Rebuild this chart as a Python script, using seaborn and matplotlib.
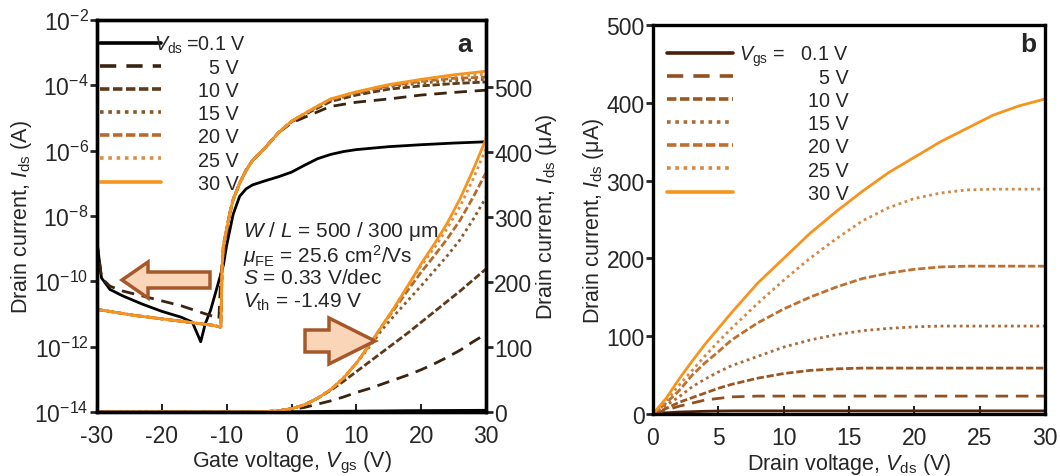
import numpy as np
import pandas as pd
import matplotlib
matplotlib.use("Agg")
import matplotlib.pyplot as plt
import seaborn as sns
from matplotlib.lines import Line2D
from matplotlib.patches import FancyArrow

sns.set_theme(style="ticks")
plt.rcParams["font.family"] = ["Liberation Sans", "DejaVu Sans"]
plt.rcParams["mathtext.fontset"] = "custom"
plt.rcParams["mathtext.rm"] = "Liberation Sans"
plt.rcParams["mathtext.it"] = "Liberation Sans:italic"
plt.rcParams["mathtext.bf"] = "Liberation Sans:bold"
plt.rcParams["axes.unicode_minus"] = False

# ---------------- data : panel a (transfer curves) ----------------
labels_a = ["0.1", "5", "10", "15", "20", "25", "30"]

# log-scale (left axis) curves, values in log10(A)
vgs_log_01 = [-30, -29.3, -28, -26, -23, -20, -17, -15.3, -14, -13.3, -12.5, -11.5, -10.5,
              -10, -9, -8, -7, -6, -4, -2, 0, 2, 4, 6, 8, 10, 15, 20, 25, 30]
log_id_01 = [-8.8, -9.9, -10.25, -10.45, -10.7, -10.92, -11.1, -11.25, -11.85, -11.3, -10.9,
             -10.2, -9.5, -8.9, -7.95, -7.4, -7.17, -7.05, -6.92, -6.8, -6.66, -6.45, -6.25,
             -6.12, -6.03, -5.97, -5.88, -5.82, -5.77, -5.73]

vgs_log_05 = [-30, -29.3, -28, -26, -23, -20, -17, -14, -12, -11.2, -10.9, -10.5, -10, -9.5,
              -9, -8, -7, -6, -4, -2, 0, 3, 6, 10, 15, 20, 25, 30]
log_id_05 = [-8.8, -9.9, -10.15, -10.3, -10.45, -10.6, -10.75, -10.95, -11.08, -11.15, -9.8,
             -9.3, -8.6, -7.9, -7.5, -7.0, -6.6, -6.3, -5.9, -5.45, -5.15, -4.9, -4.65, -4.52,
             -4.42, -4.3, -4.22, -4.15]

vgs_log_hi = [-30, -24, -20, -16, -12, -11, -10.9, -10.7, -10.5, -10, -9.5, -9, -8, -7, -6,
              -4, -2, 0, 3, 6, 10, 15, 20, 25, 30]
log_id_10 = [-10.86, -11.05, -11.15, -11.25, -11.35, -11.4, -11.4, -9.5, -8.9, -8.4, -7.9,
             -7.5, -7.0, -6.6, -6.3, -5.9, -5.45, -5.12, -4.8, -4.5, -4.3, -4.12, -4.02,
             -3.95, -3.9]
log_id_15 = [-10.86, -11.05, -11.15, -11.25, -11.35, -11.4, -11.4, -9.5, -8.9, -8.4, -7.9,
             -7.5, -7.0, -6.6, -6.3, -5.9, -5.45, -5.1, -4.77, -4.46, -4.25, -4.05, -3.93,
             -3.86, -3.82]
log_id_20 = [-10.86, -11.05, -11.15, -11.25, -11.35, -11.4, -11.4, -9.5, -8.9, -8.4, -7.9,
             -7.5, -7.0, -6.6, -6.3, -5.9, -5.45, -5.1, -4.76, -4.44, -4.22, -4.02, -3.88,
             -3.79, -3.75]
log_id_25 = [-10.86, -11.05, -11.15, -11.25, -11.35, -11.4, -11.4, -9.5, -8.9, -8.4, -7.9,
             -7.5, -7.0, -6.6, -6.3, -5.9, -5.45, -5.1, -4.75, -4.43, -4.21, -4.0, -3.85,
             -3.73, -3.66]
log_id_30 = [-10.86, -11.05, -11.15, -11.25, -11.35, -11.4, -11.4, -9.5, -8.9, -8.4, -7.9,
             -7.5, -7.0, -6.6, -6.3, -5.9, -5.45, -5.1, -4.75, -4.42, -4.2, -3.98, -3.82,
             -3.68, -3.57]

# linear-scale (right axis) curves, values in uA
vgs_lin = [-30, -10, -6, -4, -2, 0, 2, 4, 6, 8, 10, 12, 14, 16, 18, 20, 22, 24, 26, 28, 30]
lin_id_01 = [0, 0, 0, 0, 0, 0.2, 0.5, 0.8, 1, 1.2, 1.3, 1.5, 1.6, 1.8, 2, 2.1, 2.2, 2.3, 2.4, 2.5, 2.6]
lin_id_05 = [0, 0, 0, 0.5, 2, 4, 7, 12, 17, 23, 30, 36, 43, 50, 57, 65, 74, 84, 95, 108, 120]
lin_id_10 = [0, 0, 0, 0.5, 2, 5, 11, 21, 33, 47, 62, 77, 92, 107, 122, 138, 154, 170, 186, 203, 220]
lin_id_15 = [0, 0, 0, 0.5, 2, 5, 11, 21, 34, 52, 75, 100, 127, 150, 172, 194, 217, 240, 265, 296, 330]
lin_id_20 = [0, 0, 0, 0.5, 2, 5, 11, 21, 34, 52, 75, 103, 133, 160, 188, 215, 240, 266, 295, 330, 368]
lin_id_25 = [0, 0, 0, 0.5, 2, 5, 11, 21, 34, 52, 75, 103, 133, 163, 195, 225, 252, 282, 316, 358, 405]
lin_id_30 = [0, 0, 0, 0.5, 2, 5, 11, 21, 34, 52, 75, 103, 133, 163, 195, 228, 258, 290, 328, 372, 420]

# ---------------- data : panel b (output curves) ----------------
labels_b = ["0.1", "5", "10", "15", "20", "25", "30"]
vds = [0, 1, 2, 3, 4, 5, 6, 8, 10, 12, 14, 16, 18, 20, 22, 24, 26, 28, 30]
out_01 = [0, 1.5, 2.5, 3, 3.5, 3.8, 4, 4, 4, 4, 4, 4, 4, 4, 4, 4, 4, 4, 4]
out_05 = [0, 5, 10, 14, 18, 20, 22, 23, 23, 23, 23, 23, 23, 23, 23, 23, 23, 23, 23]
out_10 = [0, 7, 15, 21, 27, 33, 38, 46, 52, 56, 58, 59, 59, 59, 59, 59, 59, 59, 59]
out_15 = [0, 11, 22, 35, 45, 54, 62, 74, 86, 95, 102, 107, 110, 112, 113, 113, 113, 113, 113]
out_20 = [0, 14, 30, 50, 66, 80, 95, 117, 135, 150, 163, 174, 181, 186, 189, 190, 190, 190, 190]
out_25 = [0, 17, 37, 56, 75, 93, 110, 142, 172, 200, 225, 248, 265, 277, 284, 288, 289, 289, 289]
out_30 = [0, 20, 45, 68, 90, 110, 130, 168, 200, 232, 260, 286, 310, 330, 350, 367, 384, 396, 405]

# ---------------- styles ----------------
colors_a = ["#000000", "#3a2410", "#5c3a1b", "#8a5828", "#b86a2a", "#d98f4a", "#f7941d"]
colors_b = ["#4a2008", "#93501e", "#9c5622", "#ab6a38", "#c0702e", "#d48845", "#f7941d"]
dashes = ["-", (0, (4.5, 2.8)), (0, (2.6, 1.0)), (0, (1.0, 1.3)), (0, (2.6, 1.0)),
          (0, (1.0, 1.3)), "-"]
LW = 2.0
FS = 15
TFS = 16.5
LFS = 14.2
W, H = 1060.0, 477.0

fig = plt.figure(figsize=(10.6, 4.77), dpi=100)
ax = fig.add_axes([0.0915, 0.1342, 0.367, 0.822])
ax2 = ax.twinx()
axb = fig.add_axes([0.616, 0.130, 0.370, 0.8155])

log_sets = [(vgs_log_01, log_id_01), (vgs_log_05, log_id_05), (vgs_log_hi, log_id_10),
            (vgs_log_hi, log_id_15), (vgs_log_hi, log_id_20), (vgs_log_hi, log_id_25),
            (vgs_log_hi, log_id_30)]
lin_sets = [lin_id_01, lin_id_05, lin_id_10, lin_id_15, lin_id_20, lin_id_25, lin_id_30]
out_sets = [out_01, out_05, out_10, out_15, out_20, out_25, out_30]

for i, (xv, lv) in enumerate(log_sets):
    df = pd.DataFrame({"vgs": xv, "id": 10.0 ** np.array(lv)})
    sns.lineplot(data=df, x="vgs", y="id", ax=ax, color=colors_a[i], linestyle=dashes[i],
                 lw=LW, errorbar=None, legend=False)
for i, yv in enumerate(lin_sets):
    df = pd.DataFrame({"vgs": vgs_lin, "id": yv})
    sns.lineplot(data=df, x="vgs", y="id", ax=ax2, color=colors_a[i], linestyle=dashes[i],
                 lw=LW, errorbar=None, legend=False)
for i, yv in enumerate(out_sets):
    df = pd.DataFrame({"vds": vds, "id": yv})
    sns.lineplot(data=df, x="vds", y="id", ax=axb, color=colors_b[i], linestyle=dashes[i],
                 lw=LW, errorbar=None, legend=False)

# ---------------- axes a ----------------
ax.set_yscale("log")
ax.set_ylim(1e-14, 1e-2)
ax.set_xlim(-30, 30)
ax.set_yticks([10.0 ** k for k in range(-14, -1, 2)])
ax.yaxis.set_minor_locator(matplotlib.ticker.NullLocator())
ax.set_xticks(range(-30, 31, 10))
ax2.set_ylim(0, 603)
ax2.set_yticks(range(0, 501, 100))
ax.set_xlabel(r"Gate voltage, $V_{\rm gs}$ (V)", fontsize=FS + 0.5, labelpad=1)
ax.set_ylabel(r"Drain current, $I_{\rm ds}$ (A)", fontsize=FS + 0.5, labelpad=0)
ax2.set_ylabel(r"Drain current, $I_{\rm ds}$ ($\mathrm{\mu}$A)", fontsize=FS + 0.5, labelpad=1)
ax.tick_params(axis="y", direction="out", length=5, width=2, labelsize=TFS, pad=1)
ax.tick_params(axis="x", direction="in", length=6, width=1.5, labelsize=TFS, pad=9)
ax2.tick_params(axis="y", direction="out", length=5, width=2, labelsize=TFS, pad=1)
for a in (ax, ax2):
    for s in a.spines.values():
        s.set_linewidth(2.4)
        s.set_color("black")

# ---------------- axes b ----------------
axb.set_xlim(0, 30)
axb.set_ylim(0, 500)
axb.set_xticks(range(0, 31, 5))
axb.set_yticks(range(0, 501, 100))
axb.set_xlabel(r"Drain voltage, $V_{\rm ds}$ (V)", fontsize=FS + 0.5, labelpad=1)
axb.set_ylabel(r"Drain current, $I_{\rm ds}$ ($\mathrm{\mu}$A)", fontsize=FS + 0.5, labelpad=0.5)
axb.tick_params(axis="y", direction="out", length=5, width=2, labelsize=TFS, pad=1)
axb.tick_params(axis="x", direction="in", length=6, width=1.5, labelsize=TFS, pad=9)
for s in axb.spines.values():
    s.set_linewidth(2.4)
    s.set_color("black")


# ---------------- legends (handles from legend, labels right-aligned) ----------------
def right_aligned_legend(axis, colors, texts, anchor, hl, xr_first, xr_rest):
    handles = [Line2D([], [], color=colors[i], linestyle=dashes[i], lw=2.6) for i in range(7)]
    leg = axis.legend(handles, [" "] * 7, loc="upper left", bbox_to_anchor=anchor,
                      frameon=False, fontsize=FS, handlelength=hl, handletextpad=0.0,
                      labelspacing=0.2, borderpad=0, borderaxespad=0)
    fig.canvas.draw()
    r = fig.canvas.get_renderer()
    for k, (ln, txt) in enumerate(zip(leg.get_lines(), texts)):
        bb = ln.get_window_extent(r)
        yc = 0.5 * (bb.y0 + bb.y1)
        xr = xr_first if k == 0 else xr_rest
        fig.text(xr / W, (yc - 7.2) / H, txt, ha="right", va="baseline", fontsize=LFS)
    return leg


texts_a = [r"$V_{\rm ds}$" + "\u2009=0.1 V"] + [l + " V" for l in labels_a[1:]]
texts_b = [r"$V_{\rm gs}$ =   " + labels_b[0] + " V"] + [l + " V" for l in labels_b[1:]]
right_aligned_legend(ax, colors_a, texts_a, (0.008, 0.962), 2.9, 246, 239)
right_aligned_legend(axb, colors_b, texts_b, (0.035, 0.949), 3.2, 849, 849)

# ---------------- annotations ----------------
ax2.text(0.946, 0.939, "a", transform=ax.transAxes, fontsize=19, fontweight="bold",
         ha="center", va="center")
axb.text(0.957, 0.951, "b", transform=axb.transAxes, fontsize=19, fontweight="bold",
         ha="center", va="center")
notes = [r"$W$ / $L$ = 500 / 300 $\mathrm{\mu}$m", r"$\mu_{\rm FE}$ = 25.6 cm$^{2}$/Vs",
         r"$S$ = 0.33 V/dec", r"$V_{\rm th}$ = -1.49 V"]
for txt, yy in zip(notes, [0.464, 0.400, 0.342, 0.281]):
    ax2.text(0.375, yy, txt, transform=ax.transAxes, fontsize=FS, ha="left", va="center")

arr1 = FancyArrow(210 / W, 1 - 281 / H, (122 - 210) / W, 0, width=16 / H, head_width=36 / H,
                  head_length=26 / W, length_includes_head=True, transform=fig.transFigure,
                  fc="#fbd5b8", ec="#a5582a", lw=2.5)
arr2 = FancyArrow(305 / W, 1 - 342 / H, (375 - 305) / W, 0, width=22 / H, head_width=46 / H,
                  head_length=46 / W, length_includes_head=True, transform=fig.transFigure,
                  fc="#fbd5b8", ec="#a5582a", lw=2.5)
fig.add_artist(arr1)
fig.add_artist(arr2)

fig.savefig("out.png", dpi=100)
